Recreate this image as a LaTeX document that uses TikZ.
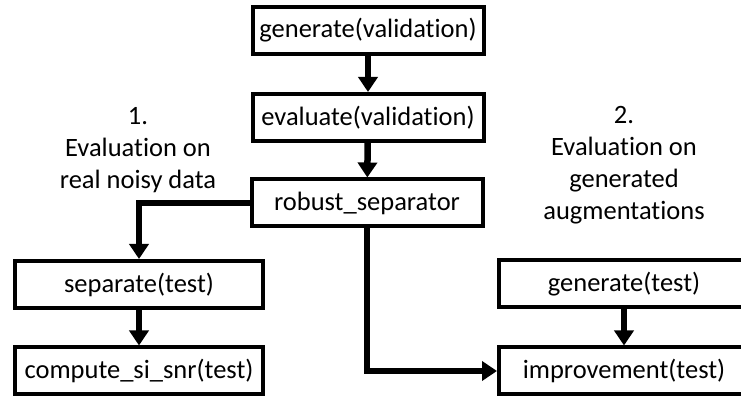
\documentclass[tikz,border=0pt]{standalone}
\usepackage{fontspec}
\setmainfont{Carlito}[Ligatures=NoCommon]
\usetikzlibrary{arrows.meta}
\begin{document}
\begin{tikzpicture}[x=1pt,y=1pt,
  box/.style={draw=black, line width=4pt, fill=white, minimum height=47pt,
    inner sep=0pt, font=\fontsize{26.5}{32}\selectfont},
  flow/.style={line width=6.5pt, -{Triangle[width=19pt,length=15pt]}},
  note/.style={align=center, font=\fontsize{26.5}{32}\selectfont}]
\useasboundingbox (0,0) rectangle (741,398);

% main column
\node[box, minimum width=231pt] (genval) at (368,367.5) {generate(validation)};
\node[box, minimum width=231pt] (evalval) at (368,280.5) {evaluate(validation)};
\node[box, minimum width=231pt] (robust) at (367,195) {robust\_separator};

% left branch: real noisy data
\node[box, minimum width=248pt] (sep) at (139,113.5) {separate(test)};
\node[box, minimum width=248pt] (sisnr) at (139,27) {compute\_si\_snr(test)};

% right branch: generated augmentations (runs past the right edge)
\node[box, minimum width=250pt] (gentest) at (624,114) {generate(test)};
\node[box, minimum width=250pt] (impr) at (624,27) {improvement(test)};

% branch captions
\node[note] (cap1) at (138,248) {1.\\Evaluation on\\real noisy data};
\node[note] (cap2) at (624,233) {2.\\Evaluation on\\generated\\augmentations};

% connectors
\draw[flow] (genval) -- (evalval);
\draw[flow] (evalval) -- (robust);
\draw[flow] (robust.west) -| (sep.north);
\draw[flow] (sep) -- (sisnr);
\draw[flow] (gentest) -- (impr);
\draw[flow] (robust.south) |- (impr.west);
\end{tikzpicture}
\end{document}
